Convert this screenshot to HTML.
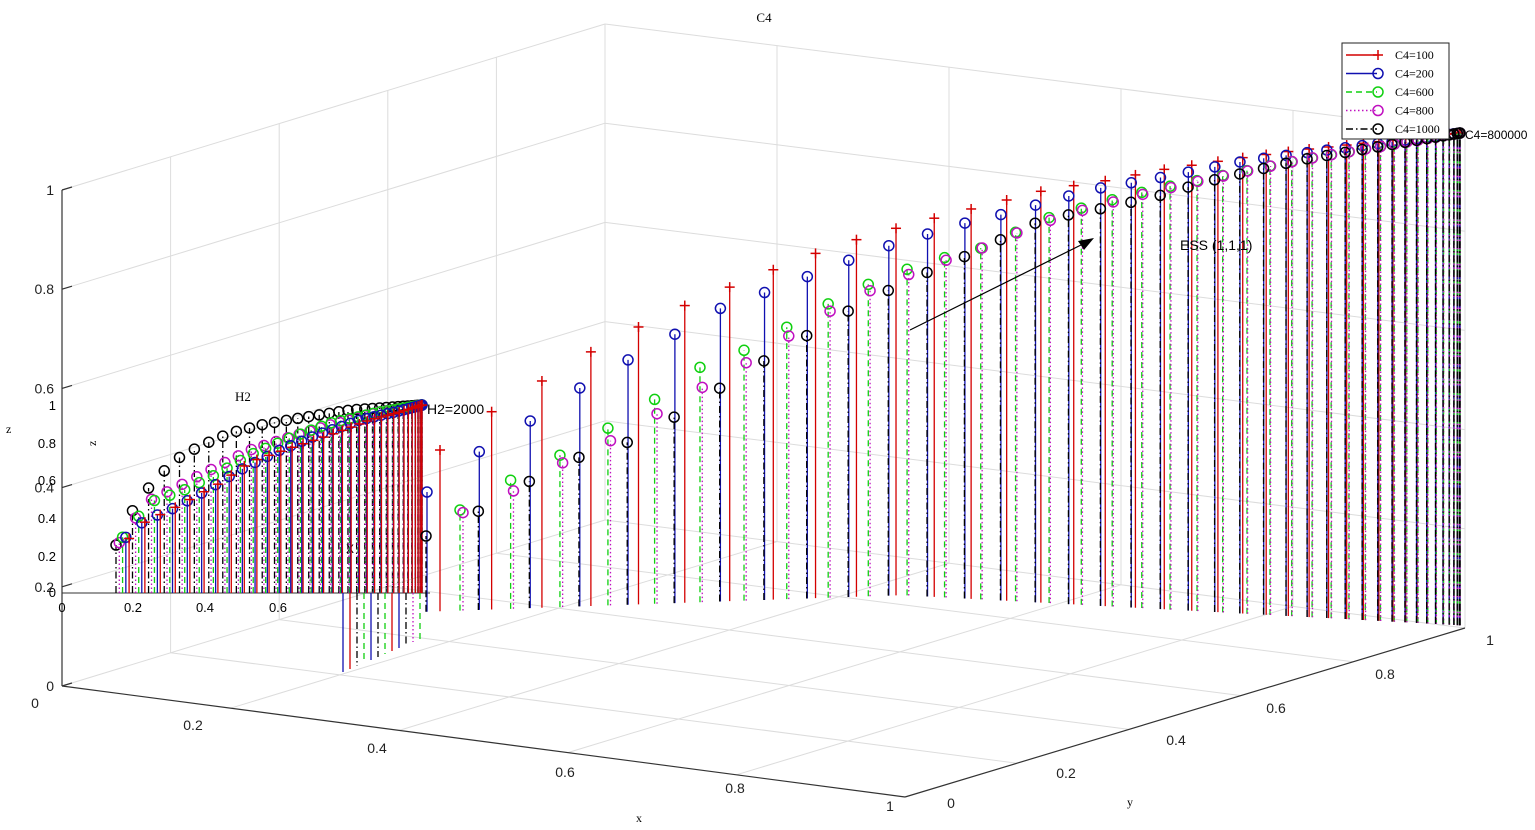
<!DOCTYPE html>
<html><head><meta charset="utf-8"><style>
body{margin:0;background:#fff;}
svg{display:block;font-family:"Liberation Sans",sans-serif;}
.s{font-family:"Liberation Serif",serif;}
</style></head><body>
<svg id="c" width="1535" height="830" viewBox="0 0 1535 830" xmlns="http://www.w3.org/2000/svg">
<text x="764" y="22" font-size="13" class="s" text-anchor="middle">C4</text>
<g id="grid" stroke="#dcdcdc" stroke-width="1" fill="none"></g>
<g id="axes" stroke="#333" stroke-width="1.2" fill="none">
<line x1="62" y1="190" x2="62" y2="686"/>
<line x1="62" y1="686" x2="905" y2="797"/>
<line x1="905" y1="797" x2="1465" y2="628"/>
</g>
<g id="ticks" font-size="14" fill="#222"></g>
<g id="inset"></g>
<g id="main"></g>
<g id="legend"></g>
<line x1="910" y1="330" x2="1085" y2="243" stroke="#000" stroke-width="1.2"/>
<polygon points="1094,238 1078,241 1084,250" fill="#000"/>
<text x="1180" y="250" font-size="14">ESS (1,1,1)</text>
<text x="636" y="822" font-size="12" class="s">x</text>
<text x="1127" y="806" font-size="12" class="s">y</text>
<text x="6" y="433" font-size="12" class="s">z</text>
</svg>
<script>
const NS="http://www.w3.org/2000/svg";
function el(p,t,a,txt){const e=document.createElementNS(NS,t);for(const k in a)e.setAttribute(k,a[k]);if(txt!==undefined)e.textContent=txt;p.appendChild(e);return e;}
const g=document.getElementById('grid');
function L(p,x1,y1,x2,y2,a){return el(p,'line',Object.assign({x1,y1,x2,y2},a||{}));}
const A=[62,686],B=[605,520],C=[1465,628];
const dz=496;
function lerp(a,b,t){return [a[0]+(b[0]-a[0])*t,a[1]+(b[1]-a[1])*t];}
for(let i=0;i<=5;i++){const t=i/5;
 const p=lerp(A,B,t);L(g,p[0],p[1],p[0],p[1]-dz);
 const q=lerp(B,C,t);L(g,q[0],q[1],q[0],q[1]-dz);
 const zz=i/5*dz;L(g,A[0],A[1]-zz,B[0],B[1]-zz);L(g,B[0],B[1]-zz,C[0],C[1]-zz);
}
const D=[905,797];
for(let i=1;i<5;i++){const t=i/5;
 let p=lerp(A,D,t),q=lerp(B,C,t);L(g,p[0],p[1],q[0],q[1]);
 p=lerp(A,B,t);q=lerp(D,C,t);L(g,p[0],p[1],q[0],q[1]);}
const tk=document.getElementById('ticks');
[[0,'0'],[0.2,'0.2'],[0.4,'0.4'],[0.6,'0.6'],[0.8,'0.8'],[1,'1']].forEach(([v,s])=>{
 const y=686-v*dz;L(document.getElementById('axes'),62,y,72,y-3);
 el(tk,'text',{x:54,y:y+5,'text-anchor':'end'},s);});
[['0',35,708],['0.2',193,730],['0.4',377,753],['0.6',565,777],['0.8',735,793],['1',890,811]].forEach(([s,x,y])=>el(tk,'text',{x,y,'text-anchor':'middle'},s));
[['0',951,808],['0.2',1066,778],['0.4',1176,745],['0.6',1276,713],['0.8',1385,679],['1',1490,645]].forEach(([s,x,y])=>el(tk,'text',{x,y,'text-anchor':'middle'},s));
const cols={r:'#d40000',b:'#1010b0',g:'#10d010',m:'#c010c0',k:'#000'};
const dash={r:'',b:'',g:'6,4',m:'1.5,2.5',k:'7,3,1.5,3'};
function interp(pts,x){if(x<=pts[0][0])return pts[0][1];for(let i=1;i<pts.length;i++){if(x<=pts[i][0]){const t=(x-pts[i-1][0])/(pts[i][0]-pts[i-1][0]);return pts[i-1][1]+t*(pts[i][1]-pts[i-1][1]);}}return pts[pts.length-1][1];}
function marker(p,k,x,y){if(k==='r'){L(p,x-5,y,x+5,y,{stroke:cols.r,'stroke-width':1.5});L(p,x,y-5,x,y+5,{stroke:cols.r,'stroke-width':1.5});}
 else el(p,'circle',{cx:x,cy:y,r:5,fill:'none',stroke:cols[k],'stroke-width':1.5});}
const M=document.getElementById('main');
const tops={
r:[[440,450],[460,432],[513,398],[547,378],[585,355],[632,330],[686,305],[752,278],[832,247],[882,232],[935,218],[987,205],[1046,190],[1110,180],[1160,170],[1240,158],[1300,150],[1460,133]],
b:[[427,492],[466,462],[493,441],[532,420],[567,396],[607,371],[660,343],[716,310],[791,283],[875,250],[914,238],[961,224],[1012,212],[1053,200],[1100,188],[1148,180],[1250,160],[1460,133]],
g:[[460,510],[497,487],[555,458],[610,427],[665,393],[710,360],[745,350],[800,320],[835,300],[882,278],[928,262],[985,247],[1041,220],[1085,207],[1130,195],[1180,184],[1300,160],[1460,133]],
m:[[462,513],[503,497],[558,465],[612,440],[660,412],[708,384],[760,355],[810,322],[860,295],[895,280],[935,264],[985,247],[1035,225],[1090,208],[1140,195],[1190,183],[1300,160],[1460,133]],
k:[[426,536],[502,500],[558,462],[612,450],[660,426],[700,401],[740,375],[784,349],[850,310],[905,282],[942,266],[985,248],[1028,225],[1068,215],[1115,206],[1162,195],[1205,182],[1300,160],[1460,133]]};
const starts={r:440,b:427,g:460,m:463,k:426};
function bot(x){return x<900?612-(x-420)*0.035:595+(x-900)*0.054;}
['r','b','g','m','k'].forEach((k,si)=>{
 const x0=starts[k];const N=40;
 for(let i=0;i<N;i++){const t=i/(N-1);const x=x0+(1460-x0)*(1-Math.pow(1-t,2.0));
  const y=interp(tops[k],x);
  L(M,x,bot(x),x,y,{stroke:cols[k],'stroke-width':1.3,'stroke-dasharray':dash[k]});marker(M,k,x,y);}
});
el(M,'text',{x:1465,y:139,'font-size':12},'C4=800000');
const I=document.getElementById('inset');
L(I,62,407,62,593,{stroke:'#333'});L(I,62,593,430,593,{stroke:'#333'});
[['1',410],['0.8',448],['0.6',485],['0.4',523],['0.2',561],['0',597]].forEach(([s,y])=>el(I,'text',{x:56,y,'font-size':13,'text-anchor':'end'},s));
[['0',62],['0.2',133],['0.4',205],['0.6',278]].forEach(([s,x])=>el(I,'text',{x,y:612,'font-size':13,'text-anchor':'middle'},s));
el(I,'text',{x:243,y:401,'font-size':13,'class':'s','text-anchor':'middle'},'H2');
el(I,'text',{x:92,y:450,'font-size':12,'class':'s',transform:'rotate(-90 92 446)'},'z');
el(I,'text',{x:346,y:553,'font-size':12},'X');
el(I,'text',{x:427,y:414,'font-size':14},'H2=2000');
const it={
k:[[116,545],[124,530],[135,505],[155,480],[175,460],[200,446],[230,433],[265,424],[300,418],[350,410],[422,405]],
m:[[116,548],[130,525],[150,500],[175,488],[210,470],[250,450],[290,437],[330,425],[380,412],[422,405]],
g:[[116,548],[130,525],[155,500],[180,492],[215,475],[250,455],[290,438],[330,423],[380,412],[422,405]],
b:[[116,548],[128,535],[145,520],[170,510],[200,494],[240,470],[280,450],[320,434],[360,420],[395,412],[422,405]],
r:[[118,560],[135,527],[180,505],[220,483],[250,462],[290,448],[330,435],[370,420],[400,412],[422,405]]};
const off={k:0,m:0.006,g:0.012,b:0.018,r:0.024};
['k','m','g','b','r'].forEach(k=>{const N=34;
 for(let i=0;i<N;i++){let t=i/(N-1)+off[k]*(1-i/(N-1));if(t>1)t=1;const x=116+(422-116)*(1-Math.pow(1-t,1.8));const y=interp(it[k],x);
  L(I,x,593,x,y,{stroke:cols[k],'stroke-width':1.3,'stroke-dasharray':dash[k]});marker(I,k,x,y);}});
['b','r','k','g','b','k','g','r','b','k','m','g'].forEach((k,i)=>{const x=343+i*7;L(I,x,593,x,672-i*3,{stroke:cols[k],'stroke-width':1.3,'stroke-dasharray':dash[k]});});
const G=document.getElementById('legend');
el(G,'rect',{x:1342,y:43,width:107,height:96,fill:'#fff',stroke:'#222'});
[['r','C4=100'],['b','C4=200'],['g','C4=600'],['m','C4=800'],['k','C4=1000']].forEach(([k,s],i)=>{const y=55+i*18.5;
 L(G,1346,y,1377,y,{stroke:cols[k],'stroke-width':1.4,'stroke-dasharray':dash[k]});marker(G,k,1378,y);
 el(G,'text',{x:1395,y:y+4,'font-size':12,'class':'s'},s);});
</script>
</body></html>
